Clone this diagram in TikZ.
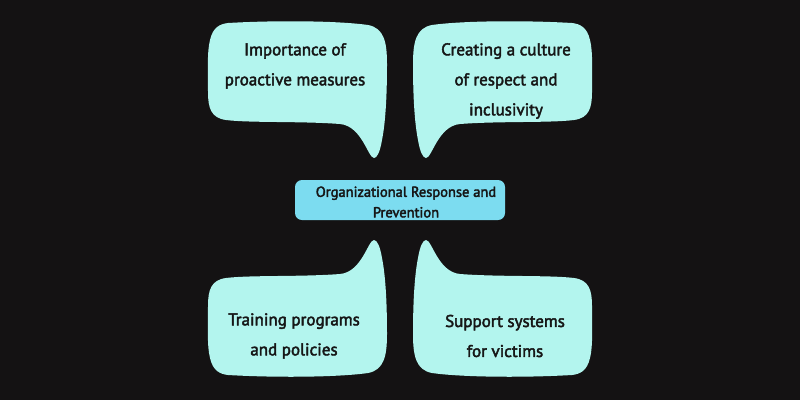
\documentclass[tikz,border=0pt]{standalone}
\usepackage{fontspec}
\setmainfont{PT Sans}
\newfontfamily\medfont{PT Sans}[FakeBold=2.5]
\definecolor{bg}{HTML}{141213}
\definecolor{bubble}{HTML}{B3F5EE}
\definecolor{boxc}{HTML}{7CDCF0}
\definecolor{ink}{HTML}{161616}
\newcommand\mybubble{%
  (228,23) .. controls (280,20) and (340,21) .. (368,25)
  .. controls (384,28) and (387,42) .. (387,64)
  .. controls (387,90) and (386,120) .. (382,140)
  .. controls (380,152) and (377,158) .. (374,158)
  .. controls (368,158) and (362,126) .. (340,124)
  .. controls (300,121) and (250,123) .. (226,120)
  .. controls (211,118) and (208,108) .. (208,92)
  .. controls (208,70) and (207,52) .. (210,40)
  .. controls (213,27) and (220,24) .. (228,23) -- cycle}
\begin{document}
\begin{tikzpicture}[x=1pt,y=-1pt,
  bubfill/.style={fill=bubble},
  bubtext/.style={text=ink,align=center,font=\medfont\fontsize{17}{30}\selectfont,inner sep=0pt},
  centertext/.style={text=ink,align=center,font=\medfont\fontsize{14.5}{20.5}\selectfont,inner sep=0pt},
  centerbox/.style={fill=boxc,rounded corners=7pt,minimum width=210pt,minimum height=40pt,inner sep=0pt}]
\fill[bg] (0,0) rectangle (800,400);
\useasboundingbox (0,0) rectangle (800,400);
% bubbles
\fill[bubfill] \mybubble;
\begin{scope}[shift={(800,0)},xscale=-1]
  \fill[bubfill] \mybubble;
\end{scope}
\begin{scope}[shift={(0,398)},yscale=-1]
  \fill[bubfill] \mybubble;
\end{scope}
\begin{scope}[shift={(800,398)},xscale=-1,yscale=-1]
  \fill[bubfill] \mybubble;
\end{scope}
% texts
\node[bubtext] (tl) at (295,66) {Importance of\\proactive measures};
\node[bubtext] (tr) at (506,81) {Creating a culture\\of respect and\\inclusivity};
\node[bubtext] (bl) at (294,336) {Training programs\\and policies};
\node[bubtext] (br) at (505,336) {Support systems\\for victims};
% center
\node[centerbox] (box) at (400,200) {};
\node[centertext] (ctext) at (406,202) {Organizational Response and\\Prevention};
\end{tikzpicture}
\end{document}
